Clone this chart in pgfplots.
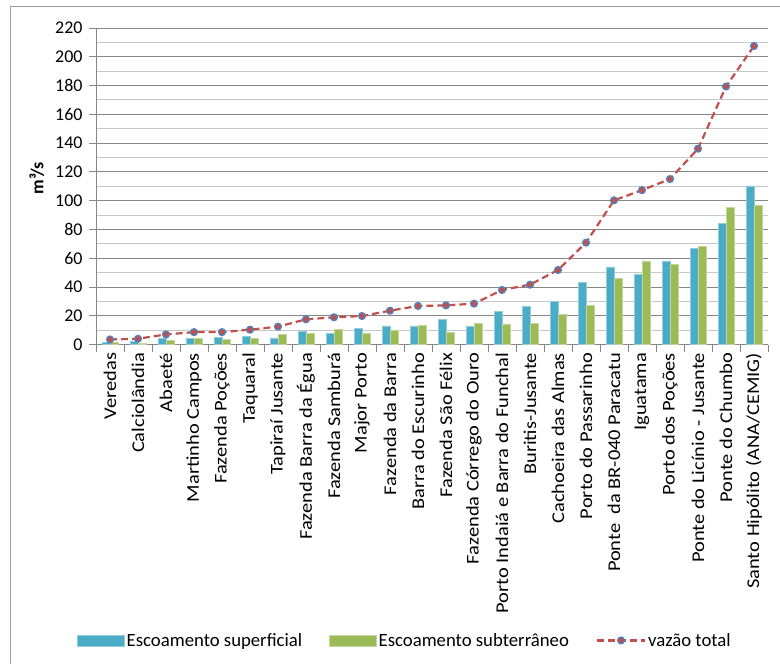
\documentclass[border=0pt]{standalone}
\usepackage{pgfplots}
\usepackage{pgfplotstable}
\pgfplotsset{compat=1.18}
\usepackage{fontspec}
\setmainfont{Carlito}

\definecolor{sup}{HTML}{4BACC6}
\definecolor{sub}{HTML}{9BBB59}
\definecolor{tot}{HTML}{C0504D}
\definecolor{mk}{HTML}{4F81BD}
\definecolor{gridmaj}{HTML}{868686}
\definecolor{gridmin}{HTML}{C6C6C6}

\newcommand\cfont{\fontsize{18}{21}\selectfont}
\newcommand\lfont{\fontsize{18.8}{21}\selectfont}
% rótulos das estações, um pouco alongados no sentido do texto
\newcommand\rl[1]{\scalebox{1.14}[1]{#1}}

\pgfplotsset{
  barraleg/.style={legend image code/.code={\fill[##1] (0bp,-5.5bp) rectangle (47bp,5.5bp);}},
  linhaleg/.style={legend image code/.code={\draw[##1, mark repeat=2, mark phase=2] plot coordinates {(0bp,0bp) (24bp,0bp) (48bp,0bp)};}},
}

% i: estação; sup: escoamento superficial; sub: escoamento subterrâneo; tot: vazão total (m3/s)
\pgfplotstableread{
i  sup    sub   tot
0  1.5    1.3   3.5
1  2.5    1.0   4.0
2  4.0    2.8   7.0
3  4.2    4.1   8.6
4  4.7    3.5   8.6
5  5.6    4.5   10.3
6  4.6    7.1   12.4
7  9.2    7.5   17.5
8  7.8    10.6  18.9
9  11.3   8.0   19.8
10 12.9   10.1  23.5
11 12.9   13.2  26.8
12 17.4   8.6   27.2
13 12.8   14.8  28.4
14 22.8   14.3  37.9
15 26.3   14.8  41.6
16 30.1   21.0  51.8
17 43.3   27.0  70.8
18 53.9   46.0  100.2
19 48.6   58.1  107.3
20 58.1   55.9  115.0
21 66.8   68.4  136.1
22 84.0   95.1  179.3
23 110.2  96.7  207.5
}\dados

\begin{document}
\begin{tikzpicture}
\useasboundingbox (-96bp,-319.5bp) rectangle (684bp,344.5bp);
% moldura do gráfico
\draw[gridmaj!80!white, line width=0.9bp] (-86bp,-330bp) -- (-86bp,338.5bp) -- (690bp,338.5bp);
\begin{axis}[
  at={(0,0)}, anchor=south west,
  scale only axis, width=672bp, height=316.5bp,
  xmin=-0.5, xmax=23.5, ymin=0, ymax=220,
  axis lines=left,
  axis line style={-, gridmaj, line width=0.9bp},
  every tick/.style={gridmaj, line width=0.9bp},
  tick align=outside,
  major tick length=7bp,
  /pgf/number format/assume math mode=true,
  ytick={0,20,...,220},
  minor ytick={10,30,...,210},
  minor y tick style={draw=none},
  ymajorgrids, yminorgrids,
  major grid style={gridmaj, line width=0.9bp},
  minor grid style={gridmin, line width=0.9bp},
  yticklabel style={font=\cfont, xshift=-3bp},
  xtick={-0.5,0.5,...,23.5},
  xticklabels={},
  extra x ticks={0,1,...,23},
  extra x tick labels={\rl{Veredas},\rl{Calciolândia},\rl{Abaeté},\rl{Martinho Campos},\rl{Fazenda Poções},\rl{Taquaral},\rl{Tapiraí Jusante},\rl{Fazenda Barra da Égua},\rl{Fazenda Samburá},\rl{Major Porto},\rl{Fazenda da Barra},\rl{Barra do Escurinho},\rl{Fazenda São Félix},\rl{Fazenda Córrego do Ouro},\rl{Porto Indaiá e Barra do Funchal},\rl{Buritis-Jusante},\rl{Cachoeira das Almas},\rl{Porto do Passarinho},\rl{Ponte\ \ da BR-040 Paracatu},\rl{Iguatama},\rl{Porto dos Poções},\rl{Ponte do Licínio - Jusante},\rl{Ponte do Chumbo},\rl{Santo Hipólito (ANA/CEMIG)}},
  extra x tick style={major tick length=0pt, grid=none,
    tick label style={yshift=-5bp, rotate=90, anchor=east, font=\cfont}},
  ylabel={\textbf{m³/s}},
  ylabel style={font=\cfont, at={(axis description cs:-0.088,0.526)}, anchor=center},
  legend columns=3,
  legend style={at={(axis description cs:0.4598,-0.935)}, anchor=center,
    draw=none, fill=none, font=\lfont,
    /tikz/every even column/.append style={column sep=25bp}},
]
\addplot[ybar, bar width=8bp, bar shift=-4bp, fill=sup, draw=sup!60!white, line width=0.5bp, barraleg]
  table[x=i, y=sup] {\dados};
\addlegendentry{Escoamento superficial}
\addplot[ybar, bar width=8bp, bar shift=4bp, fill=sub, draw=sub!60!white, line width=0.5bp, barraleg]
  table[x=i, y=sub] {\dados};
\addlegendentry{Escoamento subterrâneo}
\addplot[tot, line width=2.2bp, dash pattern=on 7bp off 4bp,
  mark=*, mark size=3.4bp, mark options={solid, fill=tot, draw=mk, line width=1.3bp}, linhaleg]
  table[x=i, y=tot] {\dados};
\addlegendentry{vazão total}
\end{axis}
\end{tikzpicture}
\end{document}
